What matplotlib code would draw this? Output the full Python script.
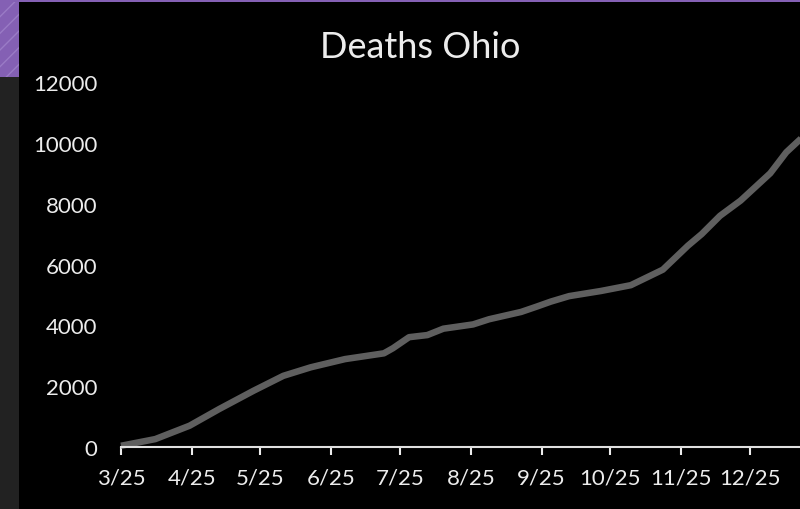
import numpy as np
import matplotlib
matplotlib.use("Agg")
import matplotlib.pyplot as plt
from matplotlib.patches import Rectangle

# cumulative deaths, Ohio (2020-21)
dates = ["2020-03-25", "2020-04-09", "2020-04-24", "2020-05-07", "2020-05-22",
         "2020-06-04", "2020-06-16", "2020-07-01", "2020-07-18", "2020-07-22",
         "2020-07-29", "2020-08-06", "2020-08-13", "2020-08-26", "2020-09-02",
         "2020-09-16", "2020-09-23", "2020-09-29", "2020-10-07", "2020-10-21",
         "2020-11-03", "2020-11-17", "2020-11-28", "2020-12-04", "2020-12-12",
         "2020-12-21", "2021-01-03", "2021-01-10", "2021-01-17"]
deaths = [40, 260, 700, 1250, 1850,
          2340, 2620, 2890, 3080, 3250,
          3610, 3680, 3890, 4030, 4200,
          4440, 4620, 4780, 4960, 5130,
          5320, 5830, 6620, 7000, 7600,
          8100, 9000, 9690, 10180]

tick_dates = ["2020-03-25", "2020-04-25", "2020-05-25", "2020-06-25", "2020-07-25",
              "2020-08-25", "2020-09-25", "2020-10-25", "2020-11-25", "2020-12-25"]
tick_labels = ["3/25", "4/25", "5/25", "6/25", "7/25", "8/25", "9/25",
               "10/25", "11/25", "12/25"]
y_ticks = [0, 2000, 4000, 6000, 8000, 10000, 12000]

plt.rcParams['font.family'] = ['Lato', 'DejaVu Sans']
txt = '#ececec'

fig = plt.figure(figsize=(8, 5.1), dpi=100)
fig.patch.set_facecolor('#000000')

# slide frame: purple band on top/left, dark gray strip below it
fig.patches.append(Rectangle((0, 0), 19/800, 1 - 78/510, transform=fig.transFigure,
                             facecolor='#222222', edgecolor='none', zorder=0))
fig.patches.append(Rectangle((0, 1 - 78/510), 19/800, 78/510, transform=fig.transFigure,
                             facecolor='#8460b4', edgecolor='#9a7bc6', hatch='//',
                             linewidth=0, zorder=0))
fig.patches.append(Rectangle((0, 1 - 3/510), 1, 3/510, transform=fig.transFigure,
                             facecolor='#8460b4', edgecolor='none', zorder=0))

ax = fig.add_axes([121/800, 1 - 448/510, 1 - 121/800, 365/510])
ax.set_facecolor('#000000')

x = np.array(dates, dtype='datetime64[D]').astype('O')
ax.plot(x, deaths, color='#5f5f5f', linewidth=4.7, solid_capstyle='butt', clip_on=False)

xt = np.array(tick_dates, dtype='datetime64[D]').astype('O')
ax.set_xticks(xt)
ax.set_xticklabels(tick_labels)
ax.set_xlim(np.datetime64("2020-03-25").astype('O'), np.datetime64("2021-01-16").astype('O'))
ax.set_ylim(0, 12000)
ax.set_yticks(y_ticks)

for s in ['top', 'right', 'left']:
    ax.spines[s].set_visible(False)
ax.spines['bottom'].set_color('#e0e0e0')
ax.spines['bottom'].set_linewidth(1.5)
ax.tick_params(axis='x', colors=txt, length=6, width=1.5, pad=9, labelsize=16)
ax.tick_params(axis='y', colors=txt, length=0, pad=17, labelsize=16)

fig.text(420/800, 1 - 47/510, 'Deaths Ohio', color=txt, fontsize=26,
         ha='center', va='center')

fig.savefig('out.png', dpi=100, facecolor=fig.get_facecolor())
